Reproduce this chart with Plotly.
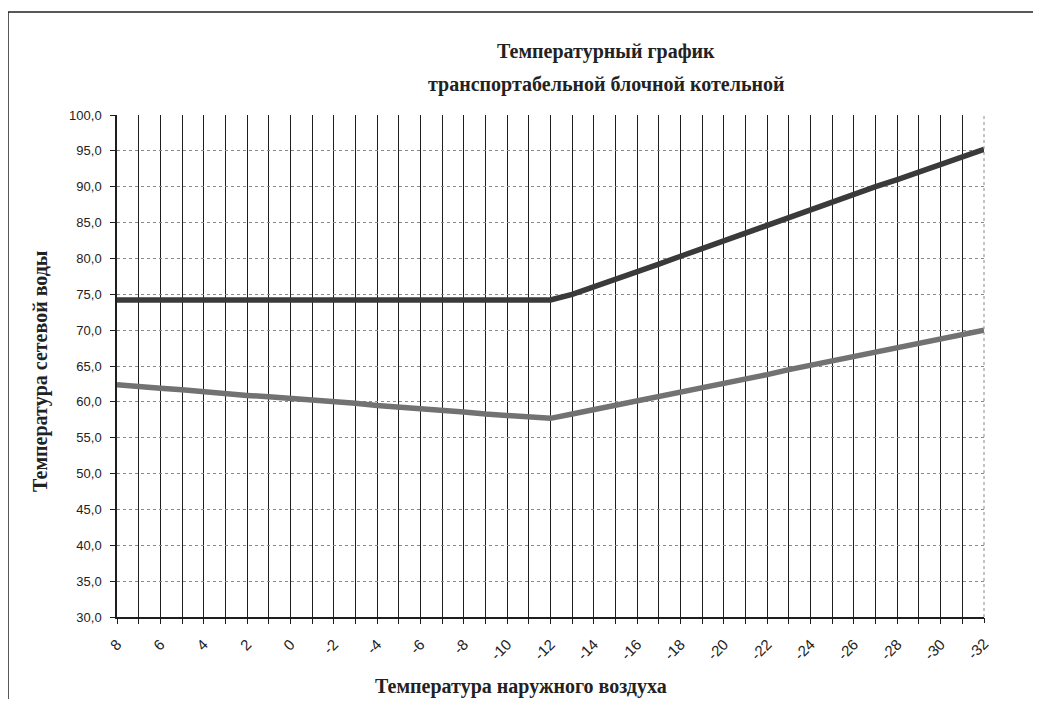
import plotly.graph_objects as go

# Outdoor air temperature, categories 8 .. -32
outdoor_temp = [8, 7, 6, 5, 4, 3, 2, 1, 0, -1, -2, -3, -4, -5, -6, -7, -8, -9, -10, -11, -12,
                -13, -14, -15, -16, -17, -18, -19, -20, -21, -22, -23, -24, -25, -26, -27, -28,
                -29, -30, -31, -32]

# Supply water temperature (upper line)
supply_temp = [74.2, 74.2, 74.2, 74.2, 74.2, 74.2, 74.2, 74.2, 74.2, 74.2, 74.2, 74.2, 74.2,
               74.2, 74.2, 74.2, 74.2, 74.2, 74.2, 74.2, 74.2,
               75.0, 76.0, 77.1, 78.1, 79.2, 80.3, 81.4, 82.4, 83.5, 84.6, 85.7, 86.8, 87.8,
               88.9, 90.0, 91.0, 92.1, 93.1, 94.2, 95.2]

# Return water temperature (lower line)
return_temp = [62.4, 62.1, 61.9, 61.7, 61.4, 61.2, 60.9, 60.7, 60.5, 60.2, 60.0, 59.8, 59.5,
               59.3, 59.0, 58.8, 58.6, 58.3, 58.1, 57.9, 57.7,
               58.3, 58.9, 59.5, 60.1, 60.7, 61.4, 62.0, 62.6, 63.2, 63.8, 64.5, 65.1, 65.7,
               66.3, 66.9, 67.6, 68.2, 68.8, 69.4, 70.0]

grid_vals = outdoor_temp[:-1]
grid_text = [str(v) if v % 2 == 0 else "" for v in grid_vals]
last_val = [outdoor_temp[-1]]
last_text = [str(outdoor_temp[-1])]

title_line1 = "Температурный график"
title_line2 = "транспортабельной блочной котельной"
y_title = "Температура сетевой воды"
x_title = "Температура наружного воздуха"

# page body has an 8px margin; figure is sized/offset to compensate
OFF = 8
W, H = 1041 - OFF, 707 - 2 * OFF
PL, PR, PT, PB = 117, 984, 115, 617  # plot area in screen pixels
L, T = PL - OFF, PT - OFF
pw, ph = PR - PL, PB - PT
R = W - L - pw
B = H - T - ph


def px_x(sx):
    return (sx - PL) / pw


def px_y(sy):
    return (PB - sy) / ph


fig = go.Figure()
fig.add_trace(go.Scatter(x=outdoor_temp, y=return_temp, mode="lines",
                         line=dict(color="#727272", width=5.5), showlegend=False))
fig.add_trace(go.Scatter(x=outdoor_temp, y=supply_temp, mode="lines",
                         line=dict(color="#3a3a3a", width=5.5), showlegend=False))
# invisible carrier so the secondary (label-only) x axis is drawn
fig.add_trace(go.Scatter(x=last_val, y=[None], xaxis="x2", mode="lines",
                         showlegend=False, hoverinfo="skip"))

serif = "Liberation Serif, Times New Roman, serif"
sans = "Liberation Sans, Arial, sans-serif"

common_x = dict(
    range=[8, -32], tickmode="array", tickangle=-45,
    ticks="outside", ticklen=5, tickcolor="#1e1e1e",
    tickfont=dict(family=sans, size=15, color="#222"),
    ticklabelstandoff=6,
    zeroline=False,
)

fig.update_layout(
    width=W, height=H,
    margin=dict(l=L, r=R, t=T, b=B),
    paper_bgcolor="white", plot_bgcolor="white",
    separators=", ",
    xaxis=dict(
        **common_x,
        tickvals=grid_vals, ticktext=grid_text,
        showgrid=True, gridcolor="#1e1e1e", gridwidth=1.2,
        showline=True, linecolor="#1e1e1e", linewidth=1.5,
    ),
    xaxis2=dict(
        **common_x,
        tickvals=last_val, ticktext=last_text,
        overlaying="x", anchor="y", side="bottom",
        showgrid=False, showline=False,
    ),
    yaxis=dict(
        range=[30, 100], dtick=5, tick0=30, tickformat=".1f",
        showgrid=True, gridcolor="#8a8a8a", gridwidth=1, griddash="dot",
        showline=True, linecolor="#1e1e1e", linewidth=1.5,
        ticks="outside", ticklen=5, tickcolor="#1e1e1e",
        tickfont=dict(family=sans, size=13, color="#222"),
        ticklabelstandoff=6,
        zeroline=False,
    ),
    shapes=[
        dict(type="line", xref="x domain", yref="y domain", x0=1, x1=1, y0=0, y1=1,
             line=dict(color="#8a8a8a", width=1, dash="dot"), layer="below"),
        dict(type="rect", xref="paper", yref="paper",
             x0=px_x(8), x1=px_x(1300), y0=px_y(900), y1=px_y(12),
             line=dict(color="#222", width=1.5), fillcolor="rgba(0,0,0,0)"),
    ],
    annotations=[
        dict(text="<b>" + title_line1 + "</b>", xref="paper", yref="paper",
             x=px_x(606), y=px_y(52), xanchor="center", yanchor="middle", showarrow=False,
             font=dict(family=serif, size=20, color="#222")),
        dict(text="<b>" + title_line2 + "</b>", xref="paper", yref="paper",
             x=px_x(606), y=px_y(84), xanchor="center", yanchor="middle", showarrow=False,
             font=dict(family=serif, size=20, color="#222")),
        dict(text="<b>" + y_title + "</b>", xref="paper", yref="paper",
             x=px_x(40), y=px_y(371), xanchor="center", yanchor="middle", showarrow=False,
             textangle=-90,
             font=dict(family=serif, size=20, color="#222")),
        dict(text="<b>" + x_title + "</b>", xref="paper", yref="paper",
             x=px_x(521), y=px_y(687), xanchor="center", yanchor="middle", showarrow=False,
             font=dict(family=serif, size=20, color="#222")),
    ],
)

fig.write_html("out.html")
